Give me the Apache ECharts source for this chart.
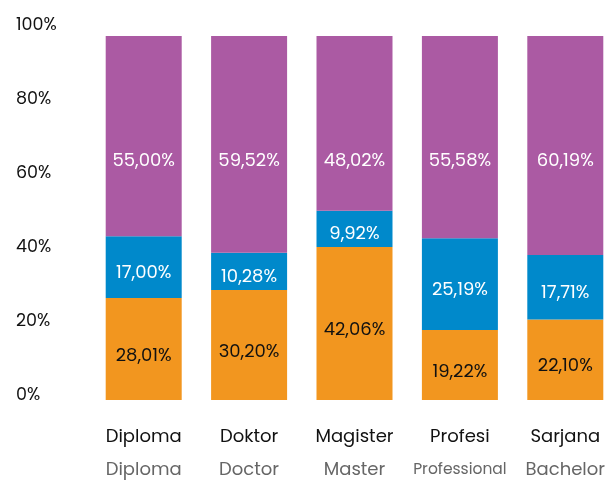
<!DOCTYPE html>
<html>
<head>
    <meta charset="utf-8">
    <title>Education level</title>
    <style>
        body { margin: 0; padding: 0; background: #fff; }
        #chart { width: 613px; height: 481px; }
    </style>
</head>
<body>
    <div id="chart"></div>
    <script src="https://cdn.jsdelivr.net/npm/echarts@6/dist/echarts.min.js"></script>
    <script>
        // data
        const categories = ['Diploma', 'Doktor', 'Magister', 'Profesi', 'Sarjana'];
        const categoriesEn = ['Diploma', 'Doctor', 'Master', 'Professional', 'Bachelor'];
        const orangeValues = [28.01, 30.20, 42.06, 19.22, 22.10];
        const blueValues = [17.00, 10.28, 9.92, 25.19, 17.71];
        const purpleValues = [55.00, 59.52, 48.02, 55.58, 60.19];
        const yTicks = [0, 20, 40, 60, 80, 100];

        const FONT = 'Poppins, "Open Sans", sans-serif';
        const purpleLabelLevel = 65.4; // purple labels all sit at the same height

        function fmt(v) {
            return v.toFixed(2).replace('.', ',') + '%';
        }

        const chart = echarts.init(document.getElementById('chart'));

        const option = {
            animation: false,
            textStyle: { fontFamily: FONT },
            grid: [
                { left: 91, width: 527, top: 36, bottom: 81, outerBoundsMode: 'none' },
                // separate grid only for the y labels (they are spaced a bit wider than the bars)
                { left: 60, width: 10, top: 25.5, bottom: 85, outerBoundsMode: 'none' }
            ],
            xAxis: [
                {
                    type: 'category',
                    gridIndex: 0,
                    data: categories,
                    axisLine: { show: false },
                    axisTick: { show: false },
                    axisLabel: {
                        margin: 21,
                        interval: 0,
                        formatter: function (v, i) {
                            const en = categoriesEn[i];
                            return '{a|' + v + '}\n' + (en.length > 8 ? '{c|' + en + '}' : '{b|' + en + '}');
                        },
                        rich: {
                            a: { fontFamily: FONT, fontSize: 18, color: '#111', lineHeight: 33 },
                            b: { fontFamily: FONT, fontSize: 18, color: '#666', lineHeight: 33 },
                            c: { fontFamily: FONT, fontSize: 15.5, color: '#666', lineHeight: 33 }
                        }
                    }
                },
                { type: 'value', gridIndex: 1, show: false }
            ],
            yAxis: [
                { type: 'value', gridIndex: 0, min: 0, max: 100, show: false },
                {
                    type: 'value',
                    gridIndex: 1,
                    min: 0,
                    max: 100,
                    interval: 20,
                    axisLine: { show: false },
                    axisTick: { show: false },
                    splitLine: { show: false },
                    axisLabel: {
                        margin: 44,
                        align: 'left',
                        fontFamily: FONT,
                        fontSize: 17.5,
                        color: '#111',
                        formatter: v => yTicks.includes(v) ? v + '%' : ''
                    }
                }
            ],
            series: [
                {
                    name: 'orange',
                    type: 'bar',
                    stack: 'total',
                    barWidth: 76,
                    data: orangeValues,
                    itemStyle: { color: '#F2961F' },
                    label: {
                        show: true,
                        position: 'inside',
                        offset: [0, 7],
                        fontFamily: FONT,
                        fontSize: 18,
                        color: '#111',
                        formatter: p => fmt(p.value)
                    }
                },
                {
                    name: 'blue',
                    type: 'bar',
                    stack: 'total',
                    barWidth: 76,
                    data: blueValues,
                    itemStyle: { color: '#0089CB' },
                    label: {
                        show: true,
                        position: 'inside',
                        offset: [0, 6],
                        fontFamily: FONT,
                        fontSize: 18,
                        color: '#fff',
                        formatter: p => fmt(p.value)
                    }
                },
                {
                    name: 'purple',
                    type: 'bar',
                    stack: 'total',
                    barWidth: 76,
                    data: purpleValues.map(v => ({
                        value: v,
                        label: {
                            // position relative to the bar: distance from top (100%) down to label level
                            position: ['50%', ((100 - purpleLabelLevel) / v * 100).toFixed(2) + '%'],
                            align: 'center',
                            verticalAlign: 'middle'
                        }
                    })),
                    itemStyle: { color: '#AB5AA3' },
                    label: {
                        show: true,
                        fontFamily: FONT,
                        fontSize: 18,
                        color: '#fff',
                        formatter: p => fmt(p.value)
                    }
                }
            ]
        };

        chart.setOption(option);
    </script>
</body>
</html>
